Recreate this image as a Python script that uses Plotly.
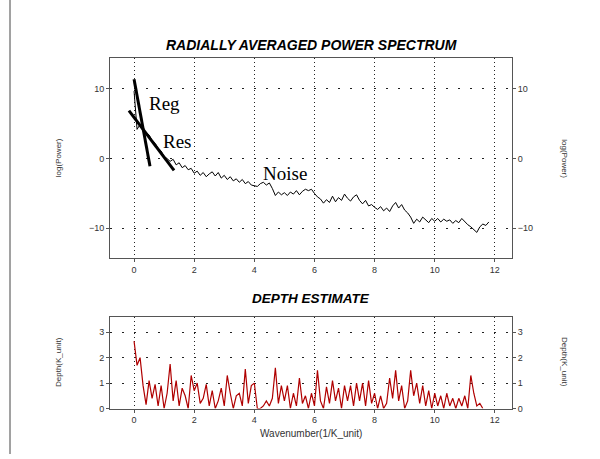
import plotly.graph_objects as go

# ---------------- data ----------------
wavenumber = [0.0, 0.1, 0.2, 0.3, 0.4, 0.5, 0.6, 0.7, 0.8, 0.9,
              1.0, 1.1, 1.2, 1.3, 1.4, 1.5, 1.6, 1.7, 1.8, 1.9,
              2.0, 2.1, 2.2, 2.3, 2.4, 2.5, 2.6, 2.7, 2.8, 2.9,
              3.0, 3.1, 3.2, 3.3, 3.4, 3.5, 3.6, 3.7, 3.8, 3.9,
              4.0, 4.1, 4.2, 4.3, 4.4, 4.5, 4.6, 4.7, 4.8, 4.9,
              5.0, 5.1, 5.2, 5.3, 5.4, 5.5, 5.6, 5.7, 5.8, 5.9,
              6.0, 6.1, 6.2, 6.3, 6.4, 6.5, 6.6, 6.7, 6.8, 6.9,
              7.0, 7.1, 7.2, 7.3, 7.4, 7.5, 7.6, 7.7, 7.8, 7.9,
              8.0, 8.1, 8.2, 8.3, 8.4, 8.5, 8.6, 8.7, 8.8, 8.9,
              9.0, 9.1, 9.2, 9.3, 9.4, 9.5, 9.6, 9.7, 9.8, 9.9,
              10.0, 10.1, 10.2, 10.3, 10.4, 10.5, 10.6, 10.7, 10.8, 10.9,
              11.0, 11.1, 11.2, 11.3, 11.4, 11.5, 11.6, 11.7, 11.8]

log_power = [9.7, 4.2, 4.9, 4.3, 3.7, 3.4, 2.6, 2.2, 1.5, 1.1,
             0.3, 0.0, -0.4, -0.1, -0.9, -0.6, -1.3, -1.0, -1.6, -1.4,
             -2.1, -1.8, -2.4, -2.0, -2.6, -2.2, -1.9, -2.5, -2.0, -2.8,
             -2.4, -3.0, -2.6, -3.2, -2.9, -3.4, -3.0, -3.6, -3.3, -3.8,
             -3.9, -4.0, -3.6, -3.4, -3.8, -3.5, -4.3, -5.3, -4.8, -5.2,
             -4.9, -5.3, -4.8, -5.1, -4.6, -5.2, -4.7, -4.4, -4.6, -4.4,
             -5.0, -5.5, -5.8, -6.4, -5.9, -6.3, -5.4, -6.2, -5.6, -6.0,
             -5.1, -5.7, -6.1, -5.5, -5.2, -6.0, -6.5, -6.0, -6.8, -6.6,
             -7.0, -7.3, -6.9, -7.5, -7.1, -7.6, -6.8, -6.3, -7.1, -6.6,
             -7.4, -7.8, -8.4, -9.3, -8.7, -9.1, -8.4, -8.8, -9.2, -8.6,
             -9.0, -8.6, -9.1, -8.7, -9.0, -8.8, -9.3, -8.9, -9.2, -8.6,
             -9.1, -9.5, -9.8, -10.2, -10.6, -9.8, -9.4, -9.6, -9.1]

depth = [2.65, 1.7, 2.0, 0.9, 0.15, 1.1, 0.4, 0.95, 0.1, 0.9,
         0.0, 0.6, 1.75, 0.3, 1.1, 0.1, 0.8, 0.5, 0.0, 1.3,
         0.7, 1.0, 0.2, 0.4, 0.95, 0.1, 0.7, 0.0, 0.3, 0.8,
         0.1, 1.3, 0.6, 0.0, 0.5, 0.6, 0.1, 1.55, 0.2, 0.9,
         1.0, 0.0, 0.0, 0.1, 0.3, 0.1, 0.4, 1.6, 0.2, 0.9,
         0.3, 0.9, 0.0, 0.6, 0.1, 1.2, 0.2, 0.5, 0.0, 0.6,
         0.1, 1.5, 0.3, 0.0, 0.85, 0.2, 1.1, 0.3, 0.8, 0.0,
         0.9, 0.3, 0.9, 0.1, 1.0, 0.3, 1.0, 0.1, 1.1, 0.2,
         0.6, 0.0, 0.5, 0.0, 0.2, 1.2, 0.4, 1.5, 0.3, 0.9,
         0.0, 0.3, 1.5, 0.5, 1.0, 0.2, 0.9, 0.1, 0.7, 0.0,
         0.6, 0.1, 0.5, 0.0, 0.6, 0.1, 0.4, 0.0, 0.4, 0.1,
         0.5, 0.0, 1.3, 0.6, 0.1, 0.2, 0.0]
depth_x = wavenumber[:len(depth)]

reg_line_x = [0.0, 0.53]
reg_line_y = [11.4, -1.1]
res_line_x = [-0.17, 1.33]
res_line_y = [6.9, -1.7]

labels = ["Reg", "Res", "Noise"]
label_x = [1.0, 1.43, 5.02]
label_y = [7.9, 2.4, -2.1]

x_ticks = [0, 2, 4, 6, 8, 10, 12]
power_ticks = [-10, 0, 10]
depth_ticks = [0, 1, 2, 3]

title_top = "RADIALLY AVERAGED POWER SPECTRUM"
title_bottom = "DEPTH ESTIMATE"
x_title = "Wavenumber(1/K_unit)"
power_title = "log(Power)"
depth_title = "Depth(K_unit)"

# ---------------- layout geometry ----------------
W, H = 600, 459
XL, XR = 110, 512
UT, UB = 59, 261
LT, LB = 320, 413
xdom = [XL / W, XR / W]
udom = [(H - UB) / H, (H - UT) / H]
ldom = [(H - LB) / H, (H - LT) / H]
XRANGE = [-0.8, 12.57]
PRANGE = [-14.3, 14.4]
DRANGE = [0, 3.62]

fig = go.Figure()

fig.add_trace(go.Scatter(x=wavenumber, y=log_power, mode="lines",
                         line=dict(color="black", width=1),
                         xaxis="x", yaxis="y", showlegend=False))
fig.add_trace(go.Scatter(x=reg_line_x, y=reg_line_y, mode="lines",
                         line=dict(color="black", width=3),
                         xaxis="x", yaxis="y", showlegend=False))
fig.add_trace(go.Scatter(x=res_line_x, y=res_line_y, mode="lines",
                         line=dict(color="black", width=3),
                         xaxis="x", yaxis="y", showlegend=False))
fig.add_trace(go.Scatter(x=depth_x, y=depth, mode="lines",
                         line=dict(color="#b00000", width=1.2),
                         xaxis="x2", yaxis="y2", showlegend=False))
# invisible carriers so the right-hand axes get drawn
fig.add_trace(go.Scatter(x=wavenumber, y=log_power, mode="lines", opacity=0,
                         hoverinfo="skip", xaxis="x", yaxis="y3", showlegend=False))
fig.add_trace(go.Scatter(x=depth_x, y=depth, mode="lines", opacity=0,
                         hoverinfo="skip", xaxis="x2", yaxis="y4", showlegend=False))

tickfont = dict(family="Arial, Liberation Sans, sans-serif", size=9, color="#333")
axis_common = dict(showline=True, linecolor="#555", linewidth=1, ticks="outside",
                   ticklen=3, tickcolor="#555", tickfont=tickfont, zeroline=False)
xgrid = dict(showgrid=True, gridcolor="#222", gridwidth=1, griddash="1px,3px")
ygrid = dict(showgrid=True, gridcolor="#222", gridwidth=1, griddash="2px,10px")

fig.update_layout(
    width=W, height=H,
    margin=dict(l=0, r=0, t=0, b=0),
    paper_bgcolor="white", plot_bgcolor="white",
    xaxis=dict(domain=xdom, anchor="y", range=XRANGE, tickvals=x_ticks,
               mirror=True, **axis_common, **xgrid),
    yaxis=dict(domain=udom, anchor="x", range=PRANGE, tickvals=power_ticks,
               mirror=True, **axis_common, **ygrid),
    yaxis3=dict(overlaying="y", side="right", anchor="x", range=PRANGE,
                tickvals=power_ticks, showgrid=False, zeroline=False,
                showline=False, ticks="outside", ticklen=3, tickcolor="#555",
                tickfont=tickfont),
    xaxis2=dict(domain=xdom, anchor="y2", range=XRANGE, tickvals=x_ticks,
                mirror=True, **axis_common, **xgrid),
    yaxis2=dict(domain=ldom, anchor="x2", range=DRANGE, tickvals=depth_ticks,
                mirror=True, **axis_common, **ygrid),
    yaxis4=dict(overlaying="y2", side="right", anchor="x2", range=DRANGE,
                tickvals=depth_ticks, showgrid=False, zeroline=False,
                showline=False, ticks="outside", ticklen=3, tickcolor="#555",
                tickfont=tickfont),
)

# text labels on the spectrum
for t, lx, ly in zip(labels, label_x, label_y):
    fig.add_annotation(x=lx, y=ly, xref="x", yref="y", text=t, showarrow=False,
                       xanchor="center", yanchor="middle",
                       font=dict(family="Liberation Serif, Times New Roman, serif",
                                 size=19, color="black"))

def px_x(p):
    return p / W

def px_y(p):
    return 1 - p / H

def paper_text(x, y, text, font, angle=0):
    fig.add_annotation(x=px_x(x), y=px_y(y), xref="paper", yref="paper",
                       text=text, textangle=angle, showarrow=False,
                       xanchor="center", yanchor="middle", font=font)

paper_text(311, 45, "<b><i>" + title_top + "</i></b>",
           dict(family="Arial, Liberation Sans, sans-serif", size=14, color="black"))
paper_text(311, 302, "<b><i>" + title_bottom + "</i></b>",
           dict(family="Arial, Liberation Sans, sans-serif", size=13.5, color="black"))

small = dict(family="Arial, Liberation Sans, sans-serif", size=8, color="#333")
paper_text(58, 160, power_title, small, -90)
paper_text(565, 160, power_title, small, 90)
paper_text(58, 366, depth_title, small, -90)
paper_text(565, 366, depth_title, small, 90)
paper_text(311, 438, x_title,
           dict(family="Arial, Liberation Sans, sans-serif", size=10, color="#333"))

# page frame line on the left
fig.add_shape(type="line", xref="paper", yref="paper", x0=px_x(10), x1=px_x(10),
              y0=0, y1=1, line=dict(color="#444", width=1))

fig.write_html("out.html")
